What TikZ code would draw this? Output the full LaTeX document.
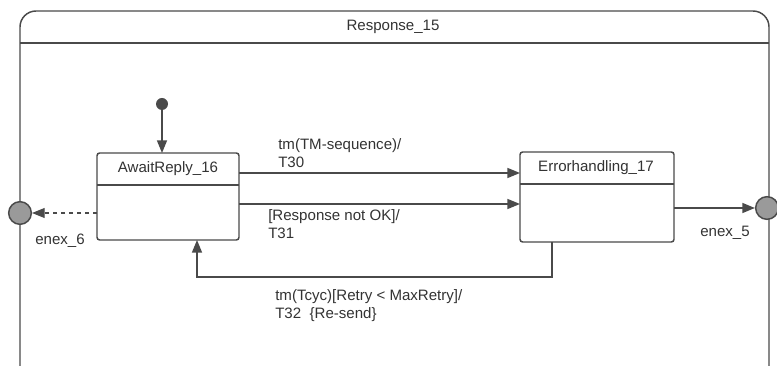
\documentclass[tikz,border=0pt]{standalone}
\usepackage{fontspec}
\setmainfont{Liberation Sans}
\usetikzlibrary{arrows.meta}
\definecolor{ln}{HTML}{4A4A4A}
\definecolor{pt}{HTML}{9A9A9A}
\tikzset{
  frame/.style={draw=ln, line width=1.1pt},
  statebox/.style={draw=ln, line width=1.1pt, rounded corners=2pt},
  trans/.style={draw=ln, line width=1.2pt, -{Triangle[length=9.5pt,width=7.5pt]}},
  dtrans/.style={draw=ln, line width=0.8pt, dashed, -{Triangle[length=9.5pt,width=7.5pt]}},
  epoint/.style={circle, draw=ln, line width=1.1pt, fill=pt, minimum size=17pt, inner sep=0pt},
  lbl/.style={font=\fontsize{11.3}{13.5}\selectfont, text=black!80, align=left, inner sep=0pt},
}
\begin{document}
\begin{tikzpicture}[x=0.75pt,y=-0.75pt]
\useasboundingbox (0,0) rectangle (777,366);
\clip (0,0) rectangle (777,366);
\fill[white] (0,0) rectangle (777,366);
% outer composite state
\draw[frame, rounded corners=12pt] (20,11) rectangle (769,400);
\draw[frame] (20,43) -- (769,43);
\node[lbl, anchor=center] (title) at (393,27) {Response\_15};
% initial
\node[circle, fill=ln, minimum size=9pt, inner sep=0pt] (init) at (162,104) {};
% AwaitReply
\draw[statebox] (97,153) rectangle (239,240);
\draw[frame] (97,185) -- (239,185);
\node[lbl, anchor=center] (awaitlbl) at (168,169) {AwaitReply\_16};
\coordinate (awtop) at (162,153);
\coordinate (awbot) at (197,240);
\coordinate (awr1) at (239,173);
\coordinate (awr2) at (239,204);
\coordinate (awl) at (97,213);
% Errorhandling
\draw[statebox] (520,152) rectangle (674,242);
\draw[frame] (520,184) -- (674,184);
\node[lbl, anchor=center] (errlbl) at (596,168) {Errorhandling\_17};
\coordinate (erl1) at (520,173);
\coordinate (erl2) at (520,204);
\coordinate (err) at (674,208);
\coordinate (erbot) at (552,242);
% exit points
\node[epoint] (enex6) at (20,213) {};
\node[epoint] (enex5) at (767,208) {};
\node[lbl, anchor=west] (l6) at (35,241) {enex\_6};
\node[lbl, anchor=west] (l5) at (700,233) {enex\_5};
% transitions
\draw[trans] (init) -- (awtop);
\draw[trans] (awr1) -- (erl1);
\draw[trans] (awr2) -- (erl2);
\draw[trans] (err) -- (enex5);
\draw[dtrans] (awl) -- (enex6);
\draw[trans] (erbot) -- (552,277) -- (197,277) -- (awbot);
% labels
\node[lbl, anchor=north west] (t30) at (278,138) {tm(TM-sequence)/\\T30};
\node[lbl, anchor=north west] (t31) at (268,209) {[Response not OK]/\\T31};
\node[lbl, anchor=north west] (t32) at (275,289) {tm(Tcyc)[Retry < MaxRetry]/\\T32 \ \{Re-send\}};
\end{tikzpicture}
\end{document}
